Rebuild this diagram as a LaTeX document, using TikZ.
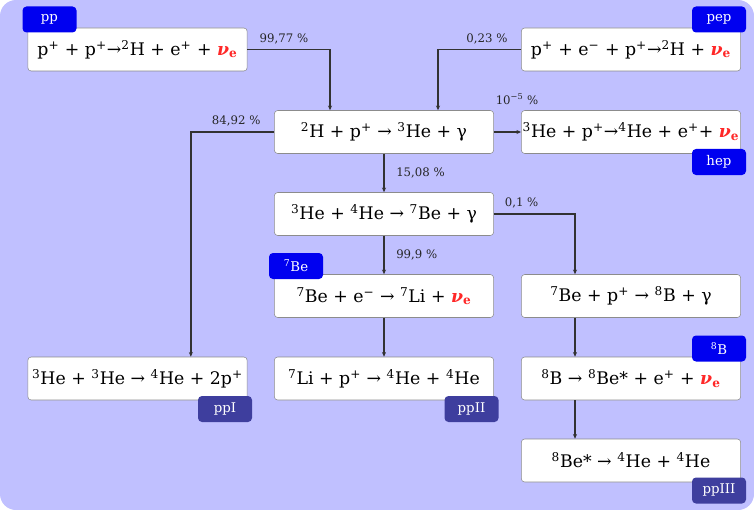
\documentclass[tikz,border=0pt]{standalone}
\usepackage{fontspec}
\setmainfont{DejaVu Serif}
\usetikzlibrary{arrows.meta,calc}
\definecolor{bgblue}{RGB}{192,192,255}
\definecolor{tagblue}{RGB}{0,0,240}
\definecolor{tagdark}{RGB}{62,62,158}
\definecolor{nured}{RGB}{255,40,40}
\definecolor{linegray}{RGB}{50,50,50}
\definecolor{boxgray}{RGB}{140,140,140}
\newcommand{\iso}[2]{\textsuperscript{#1}#2}
\newcommand{\nue}{{\color{nured}\bfseries\textit{ν}\textsubscript{e}}}
\tikzset{
  reaction/.style={draw=boxgray, fill=white, rounded corners=2.5pt,
    minimum width=164.5pt, minimum height=32.25pt, inner sep=0pt,
    font=\fontsize{13}{15}\selectfont},
  chaintag/.style={fill=tagblue, text=white, rounded corners=3pt,
    minimum width=40.5pt, minimum height=19.5pt, inner sep=0pt,
    font=\fontsize{10}{11}\selectfont},
  branchtag/.style={chaintag, fill=tagdark},
  flow/.style={draw=linegray, line width=1pt, -{Stealth[length=3.5pt,width=3pt]}},
  ratio/.style={font=\fontsize{8.8}{10}\selectfont, text=black!85, inner sep=1pt},
}
\begin{document}
\begin{tikzpicture}[x=0.75pt,y=-0.75pt]
  %% background
  \fill[white] (0,0) rectangle (754,510);
  \fill[bgblue, rounded corners=12pt] (0,0) rectangle (754,510);
  %% reactions
  \node[reaction] (pp) at (137.5,49.5) {p\textsuperscript{+} + p\textsuperscript{+}→\iso{2}{H} + e\textsuperscript{+} + \nue};
  \node[reaction] (pep) at (631,49.5) {p\textsuperscript{+} + e\textsuperscript{−} + p\textsuperscript{+}→\iso{2}{H} + \nue};
  \node[reaction] (dp) at (384,132) {\iso{2}{H} + p\textsuperscript{+} → \iso{3}{He} + γ};
  \node[reaction] (hep) at (631,132) {\iso{3}{He} + p\textsuperscript{+}→\iso{4}{He} + e\textsuperscript{+}+ \nue};
  \node[reaction] (hehe4) at (384,214) {\iso{3}{He} + \iso{4}{He} → \iso{7}{Be} + γ};
  \node[reaction] (beE) at (384,296) {\iso{7}{Be} + e\textsuperscript{−} → \iso{7}{Li} + \nue};
  \node[reaction] (beP) at (631,296) {\iso{7}{Be} + p\textsuperscript{+} → \iso{8}{B} + γ};
  \node[reaction] (hehe3) at (137.5,378.5) {\iso{3}{He} + \iso{3}{He} → \iso{4}{He} + 2p\textsuperscript{+}};
  \node[reaction] (liP) at (384,378.5) {\iso{7}{Li} + p\textsuperscript{+} → \iso{4}{He} + \iso{4}{He}};
  \node[reaction] (bB) at (631,378.5) {\iso{8}{B} → \iso{8}{Be*} + e\textsuperscript{+} + \nue};
  \node[reaction] (beStar) at (631,460.5) {\iso{8}{Be*} → \iso{4}{He} + \iso{4}{He}};
  %% branches
  \draw[flow] (pp.east) -| ([xshift=-40.5pt]dp.north);
  \draw[flow] (pep.west) -| ([xshift=40.5pt]dp.north);
  \draw[flow] (dp.east) -- (hep.west);
  \draw[flow] (dp.west) -| ([xshift=40pt]hehe3.north);
  \draw[flow] (dp.south) -- (hehe4.north);
  \draw[flow] (hehe4.south) -- (beE.north);
  \draw[flow] (hehe4.east) -| ([xshift=-42pt]beP.north);
  \draw[flow] (beE.south) -- (liP.north);
  \draw[flow] ([xshift=-42pt]beP.south) -- ([xshift=-42pt]bB.north);
  \draw[flow] ([xshift=-42pt]bB.south) -- ([xshift=-42pt]beStar.north);
  %% branching ratios
  \node[ratio, anchor=south west] (r1) at ([xshift=8pt,yshift=3pt]pp.east) {99,77 \%};
  \node[ratio, anchor=south east] (r2) at ([xshift=-9pt,yshift=3pt]pep.west) {0,23 \%};
  \node[ratio, anchor=south] (r3) at ([xshift=-3pt,yshift=3pt]hep.north west) {10\textsuperscript{−5} \%};
  \node[ratio, anchor=south east] (r4) at ([xshift=-9pt,yshift=3pt]dp.west) {84,92 \%};
  \node[ratio, anchor=west] (r5) at ([xshift=8pt]$(dp.south)!0.5!(hehe4.north)$) {15,08 \%};
  \node[ratio, anchor=west] (r6) at ([xshift=8pt]$(hehe4.south)!0.5!(beE.north)$) {99,9 \%};
  \node[ratio, anchor=south west] (r7) at ([xshift=7pt,yshift=3pt]hehe4.east) {0,1 \%};
  %% chain tags
  \node[chaintag] (tpp) at (49.5,19.5) {pp};
  \node[chaintag] (tpep) at (719,19.5) {pep};
  \node[chaintag] (thep) at (719,162) {hep};
  \node[chaintag] (tbe) at (296,266) {\textsuperscript{7}Be};
  \node[chaintag] (tb) at (719,348.5) {\textsuperscript{8}B};
  \node[branchtag] (tppI) at (225,409) {ppI};
  \node[branchtag] (tppII) at (471.5,409) {ppII};
  \node[branchtag] (tppIII) at (719,490.5) {ppIII};
\end{tikzpicture}
\end{document}
